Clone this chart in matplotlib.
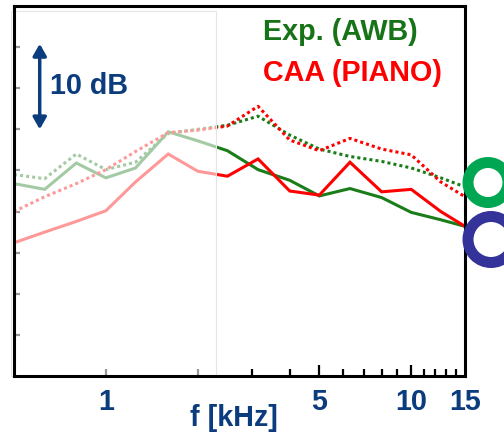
import matplotlib
matplotlib.use("Agg")
import matplotlib.pyplot as plt
from matplotlib.patches import Rectangle, Circle
import numpy as np

# ---- data ----
freq_khz = [0.5, 0.63, 0.8, 1.0, 1.25, 1.6, 2.0, 2.5, 3.15, 4.0, 5.0, 6.3, 8.0, 10.0, 12.5, 15.0]
exp_solid = [23.4, 22.7, 25.9, 24.1, 25.3, 29.7, 28.6, 27.4, 25.1, 23.8, 21.9, 22.8, 21.7, 19.9, 19.0, 18.2]
exp_dotted = [24.5, 24.0, 27.0, 25.1, 26.0, 29.5, 30.0, 30.5, 31.6, 29.3, 27.6, 26.7, 26.1, 25.3, 24.1, 23.0]
caa_solid = [16.2, 17.5, 18.8, 20.1, 23.6, 27.0, 24.9, 24.3, 26.4, 22.5, 22.0, 26.0, 22.4, 22.7, 20.0, 18.2]
caa_dotted = [20.0, 21.8, 23.4, 25.1, 27.3, 29.6, 29.9, 30.4, 32.8, 28.7, 27.4, 28.9, 27.6, 26.9, 23.6, 21.8]

xtick_vals = [1, 5, 10, 15]
xtick_labels = ["1", "5", "10", "15"]
xminor_vals = [2, 3, 4, 6, 7, 8, 9, 11, 12, 13, 14]
ytick_vals = [5, 10, 15, 20, 25, 30, 35, 40]

GREEN = "#1a7d1a"
RED = "#ff0000"
NAVY = "#0b3c7d"
FONT = "Liberation Sans"
FS = 20.7

fig = plt.figure(figsize=(5.04, 4.33), dpi=100)
ax = fig.add_axes([14/504, 57/433, 451/504, 370/433])
ax.set_xscale("log")
ax.set_xlim(0.5, 15)
ax.set_ylim(0, 45)

lw = 2.2
ax.plot(freq_khz, exp_solid, color=GREEN, lw=lw, solid_joinstyle="miter", zorder=2)
ax.plot(freq_khz, exp_dotted, color=GREEN, lw=lw, ls=(0, (1, 1)), zorder=2)
ax.plot(freq_khz, caa_solid, color=RED, lw=lw, solid_joinstyle="miter", zorder=2)
ax.plot(freq_khz, caa_dotted, color=RED, lw=lw, ls=(0, (1, 1)), zorder=2)

# faded overlay on the low-frequency part
ax.add_patch(Rectangle((-3/451, 0), (216-11)/451, (376-11)/370, transform=ax.transAxes,
                       facecolor="white", alpha=0.6, edgecolor="none", zorder=2.2, clip_on=False))
ax.add_patch(Rectangle((-3/451, 0), (216-11)/451, (376-11)/370, transform=ax.transAxes,
                       facecolor="none", edgecolor="#e4e4e4", lw=0.8, zorder=2.2, clip_on=False))

for s in ax.spines.values():
    s.set_linewidth(2.2)
    s.set_zorder(3)

ax.set_xticks(xtick_vals)
ax.set_xticklabels(xtick_labels)
ax.set_xticks(xminor_vals, minor=True)
ax.xaxis.set_minor_formatter(matplotlib.ticker.NullFormatter())
ax.tick_params(axis="x", which="major", direction="in", length=7.7, width=1.6, pad=9,
               labelsize=FS, labelcolor=NAVY)
ax.tick_params(axis="x", which="minor", direction="in", length=4.7, width=1.6)
ax.xaxis.get_major_ticks()[0].tick1line.set_markersize(5.3)
ax.xaxis.get_major_ticks()[-1].tick1line.set_markersize(0)
for lab in ax.get_xticklabels():
    lab.set_fontfamily(FONT)
    lab.set_fontweight("bold")

ax.set_yticks(ytick_vals)
ax.set_yticklabels([])
ax.tick_params(axis="y", which="both", direction="in", length=4.3, width=1.6, left=True, right=False)
ax.yaxis.set_minor_locator(matplotlib.ticker.NullLocator())
ax.tick_params(axis="x", which="both", top=False)

ax.text((234-14)/451, (376-418)/370, "f [kHz]", transform=ax.transAxes, ha="center", va="center",
        fontsize=FS, fontweight="bold", color=NAVY, family=FONT)

# scale arrow
ax.annotate("", xy=(0.607, 40.4), xytext=(0.607, 30.0),
            arrowprops=dict(arrowstyle="<|-|>,head_length=0.7,head_width=0.4", color=NAVY, lw=2.5,
                            shrinkA=0, shrinkB=0), zorder=4)
ax.text(0.655, 35.3, "10 dB", ha="left", va="center", fontsize=FS, fontweight="bold",
        color=NAVY, family=FONT, zorder=4)

ax.text(3.27, 41.85, "Exp. (AWB)", ha="left", va="center", fontsize=FS, fontweight="bold",
        color="#177317", family=FONT)
ax.text(3.27, 36.86, "CAA (PIANO)", ha="left", va="center", fontsize=FS, fontweight="bold",
        color=RED, family=FONT)

# ring markers outside the axes (display pixel coordinates)
fig.add_artist(Circle((488, 433-182.5), 20, transform=None, facecolor="none",
                      edgecolor="#00a651", lw=7.9, clip_on=False))
fig.add_artist(Circle((491, 433-239.5), 23, transform=None, facecolor="none",
                      edgecolor="#33339a", lw=7.9, clip_on=False))

fig.savefig("out.png", dpi=100)
